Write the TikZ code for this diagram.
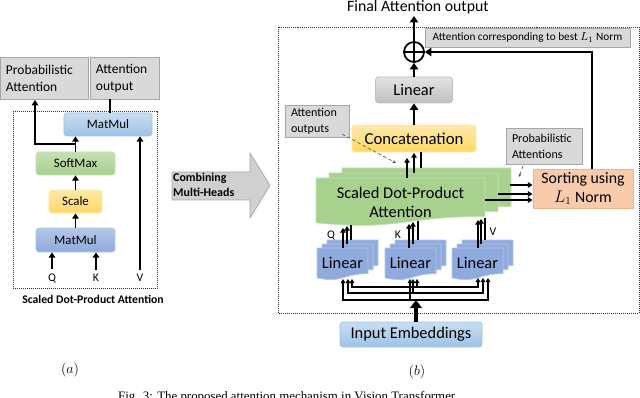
\documentclass[tikz,border=0pt]{standalone}
\usepackage{fontspec}
\setmainfont{Carlito}
\newfontfamily\capfont{Liberation Serif}
\usetikzlibrary{arrows.meta}
\definecolor{lblgray}{HTML}{D9D9D9}
\definecolor{lbledge}{HTML}{A6A6A6}
\definecolor{bluelt}{HTML}{C9DDF2}
\definecolor{bluemd}{HTML}{9DC3E6}
\definecolor{bluedk}{HTML}{8FAADC}
\definecolor{bluedklt}{HTML}{B4C7E7}
\definecolor{grn}{HTML}{A9D18E}
\definecolor{grnlt}{HTML}{C5E0B4}
\definecolor{yel}{HTML}{FFD966}
\definecolor{yellt}{HTML}{FFE9A8}
\definecolor{gry}{HTML}{BFBFBF}
\definecolor{grylt}{HTML}{E3E3E3}
\definecolor{salmon}{HTML}{F8CBAD}
\definecolor{salmonedge}{HTML}{F4B183}
\definecolor{arrowgray}{HTML}{D0D0D0}
\newcommand{\docshp}[6]{%
  \path[fill=#5, draw=#6, line width=0.6pt] (#1,#2) -- ({#1+#3},#2) -- ({#1+#3},{#2+0.802*#4})
    .. controls ({#1+0.5*#3},{#2+0.802*#4}) and ({#1+0.5*#3},{#2+1.107*#4}) .. (#1,{#2+0.934*#4}) -- cycle;}
\begin{document}
\begin{tikzpicture}[x=0.03cm,y=-0.03cm,
  f10/.style={font=\fontsize{10}{12}\selectfont},
  lbl/.style={rectangle, fill=lblgray, draw=lbledge, line width=0.6pt, inner ysep=0pt, inner xsep=0.18cm, align=left},
  rbox/.style={rectangle, rounded corners=2.5pt, inner sep=0pt, line width=0.6pt, align=center},
  arr/.style={line width=1.6pt, -{Triangle[length=4.5pt,width=5.5pt]}},
  arrR/.style={line width=2.3pt, -{Triangle[length=5.5pt,width=7pt]}},
  arrS/.style={line width=1.6pt, -{Triangle[length=4pt,width=4.8pt]}},
  plainS/.style={line width=1.6pt},
  bus/.style={line width=1.4pt, {Triangle[length=3.5pt,width=4pt]}-{Triangle[length=3.5pt,width=4pt]}},
  busv/.style={line width=1.4pt, -{Triangle[length=3.5pt,width=4pt]}},
  thinarr/.style={line width=0.5pt, black!70, densely dashed, -{Stealth[length=3pt,width=2.5pt]}},
  dotbox/.style={draw=black!80, line width=0.7pt, densely dotted}]
\useasboundingbox (0,0) rectangle (640,398);

% ---------------- (a) ----------------
\node[lbl, text width=2.28cm, minimum height=1.26cm, font=\fontsize{11.5}{14.5}\selectfont] (pa) at (44,78) {Probabilistic\\Attention};
\node[lbl, text width=1.71cm, minimum height=1.26cm, font=\fontsize{11.5}{14.5}\selectfont] (ao) at (124.5,78) {Attention\\output};
\draw[dotbox] (13,111) rectangle (157,288);
\node[rbox, top color=bluelt, bottom color=bluemd, draw=bluemd, minimum width=2.64cm, minimum height=0.69cm, font=\fontsize{11}{13}\selectfont] (mm2) at (108,124.5) {MatMul};
\node[rbox, top color=grnlt, bottom color=grn, draw=grnlt, minimum width=2.37cm, minimum height=0.69cm, font=\fontsize{11}{13}\selectfont] (sm) at (75.5,163.5) {SoftMax};
\node[rbox, top color=yellt, bottom color=yel, draw=yellt, minimum width=1.59cm, minimum height=0.69cm, font=\fontsize{11}{13}\selectfont] (sc) at (75.5,201.5) {Scale};
\node[rbox, top color=bluedklt, bottom color=bluedk, draw=bluedklt, minimum width=2.37cm, minimum height=0.72cm, font=\fontsize{11}{13}\selectfont] (mm1) at (75.5,240) {MatMul};
\node[f10] (q) at (52,278) {Q};
\node[f10] (k) at (96,278) {K};
\node[f10] (v) at (140,278) {V};
\draw[arr] (q.north) -- (q.north |- mm1.south);
\draw[arr] (k.north) -- (k.north |- mm1.south);
\draw[arr] (v.north) -- (v.north |- mm2.south);
\draw[arr] (mm1.north) -- (sc.south);
\draw[arr] (sc.north) -- (sm.south);
\draw[arr] (sm.north) -- (sm.north |- mm2.south);
\coordinate (br) at (75.5,144);
\coordinate (paIn) at (35,100);
\draw[arr] (br) -| (paIn);
\coordinate (aoIn) at (110,99);
\draw[line width=1.6pt] (aoIn |- mm2.north) -- (aoIn);
\node[font=\bfseries\fontsize{10}{12}\selectfont] (capA) at (93,299) {Scaled Dot-Product Attention};
\node[font=\fontsize{12}{14}\selectfont] (la) at (70,370) {$(a)$};

% ---------------- big arrow ----------------
\path[fill=arrowgray, draw=lbledge, line width=0.6pt] (172,172) -- (250,172) -- (250,153) -- (270,185.5) -- (250,218) -- (250,200) -- (172,200) -- cycle;
\node[anchor=west, align=left, inner sep=0pt, font=\bfseries\fontsize{10.2}{12.5}\selectfont] (comb) at (173,185) {Combining\\Multi-Heads};

% ---------------- (b) ----------------
\draw[dotbox] (278,27) rectangle (639,313);
\node[font=\fontsize{13.5}{16}\selectfont, anchor=base, inner sep=1pt] (fin) at (418,12) {Final Attention output};
\node[circle, draw, line width=1.5pt, minimum size=0.6cm, inner sep=0pt] (op) at (414,52) {};
\draw[line width=1.5pt] (op.north) -- (op.south) (op.west) -- (op.east);
\draw[arrR] (op.north) -- (op.north |- fin.south);
\node[lbl, minimum width=6.15cm, minimum height=0.57cm, font=\fontsize{9.6}{11}\selectfont] (best) at (527.5,37.5) {Attention corresponding to best $L_1$ Norm};
\node[rbox, top color=grylt, bottom color=gry, draw=gry, minimum width=2.31cm, minimum height=0.78cm, font=\fontsize{14}{16}\selectfont] (lin) at (414,90) {Linear};
\node[rbox, top color=yellt, bottom color=yel, draw=yellt, minimum width=3.72cm, minimum height=0.81cm, font=\fontsize{14.3}{16}\selectfont] (cat) at (414,138.5) {Concatenation};
\draw[arrR] (cat.north) -- (lin.south);
\draw[arrR] (lin.north) -- (op.south);
\node[lbl, text width=1.56cm, minimum height=0.96cm, font=\fontsize{10.3}{13.5}\selectfont] (aout) at (317,121) {Attention\\outputs};
\node[lbl, text width=1.92cm, minimum height=1.08cm, font=\fontsize{10.3}{13.5}\selectfont] (pats) at (544,146) {Probabilistic\\Attentions};
\node[rectangle, fill=salmon, draw=salmonedge, line width=0.8pt, minimum width=3cm, minimum height=1.17cm, inner sep=0pt, align=center, font=\fontsize{13.5}{16}\selectfont] (sort) at (583,188.5) {Sorting using\\$L_1$ Norm};
\coordinate (sortOut) at (592,169);
\draw[arrR] (sortOut) |- (op.east);
\coordinate (c1a) at (342,134);
\coordinate (c1) at (396,163);
\draw[thinarr] (c1a) -- (c1);
\coordinate (c2a) at (523,166);
\coordinate (c2) at (519,177);
\draw[thinarr] (c2a) -- (c2);

% green stack
\docshp{342}{168}{169}{48}{grn}{grnlt}
\docshp{329}{173}{169}{48}{grn}{grnlt}
\docshp{316}{178}{169}{48}{grn}{grnlt}
\node[align=center, font=\fontsize{14}{16.2}\selectfont] (sdp) at (400.5,202.5) {Scaled Dot-Product\\Attention};
% arrows to concatenation
\coordinate (g1) at (407,178); \coordinate (g2) at (414,173); \coordinate (g3) at (421,168);
\draw[arrS] (g1) -- (407,158);
\draw[arrS] (g2) -- (414,153);
\draw[plainS] (g3) -- (g3 |- cat.south);
% arrows to sorting
\coordinate (s1) at (510,185); \coordinate (s2) at (498,194); \coordinate (s3) at (485,200);
\draw[arrS] (s1) -- (s1 -| sort.west);
\draw[arrS] (s2) -- (s2 -| sort.west);
\draw[arrS] (s3) -- (s3 -| sort.west);

% linear stacks
\docshp{327}{240}{51}{32}{bluedk}{bluedklt}
\docshp{322}{244}{51}{32}{bluedk}{bluedklt}
\docshp{317}{248}{51}{32}{bluedk}{bluedklt}
\docshp{395}{240}{51}{32}{bluedk}{bluedklt}
\docshp{390}{244}{51}{32}{bluedk}{bluedklt}
\docshp{385}{248}{51}{32}{bluedk}{bluedklt}
\docshp{462}{240}{51}{32}{bluedk}{bluedklt}
\docshp{457}{244}{51}{32}{bluedk}{bluedklt}
\docshp{452}{248}{51}{32}{bluedk}{bluedklt}
\node[font=\fontsize{14}{16}\selectfont] (lq) at (342.5,263) {Linear};
\node[font=\fontsize{14}{16}\selectfont] (lk) at (410.5,263) {Linear};
\node[font=\fontsize{14}{16}\selectfont] (lv) at (477.5,263) {Linear};
\node[f10] (qr) at (331,235) {Q};
\node[f10] (kr) at (398,235) {K};
\node[f10] (vr) at (493,232) {V};
% linear -> attention
\draw[arrS] (343,248) -- (343,228);
\draw[arrS] (347,244) -- (347,226);
\draw[plainS] (351,240) -- (351,225);
\draw[arrS] (409,248) -- (409,224);
\draw[arrS] (413,244) -- (413,222);
\draw[plainS] (418,240) -- (418,221);
\draw[arrS] (478,248) -- (478,220);
\draw[arrS] (481,244) -- (481,219);
\draw[plainS] (485,240) -- (485,218);

% bus
\draw[bus] (343,279) -- (343,300) -- (488,300) -- (488,278);
\draw[bus] (348,279) -- (348,293) -- (483,293) -- (483,278);
\draw[bus] (352,279) -- (352,287) -- (478,287) -- (478,278);
\draw[busv] (410,300) -- (410,279);
\draw[busv] (413,293) -- (413,279);
\draw[busv] (417,287) -- (417,279);
\node[rbox, top color=bluelt, bottom color=bluemd, draw=bluemd, minimum width=4.26cm, minimum height=0.75cm, font=\fontsize{14}{16}\selectfont] (emb) at (411,334.5) {Input Embeddings};
\coordinate (busTop) at (416,300);
\draw[line width=3pt, -{Triangle[length=7pt,width=10pt]}] (busTop |- emb.north) -- (busTop);
\node[font=\fontsize{12}{14}\selectfont] (lb) at (417,372) {$(b)$};
\node[anchor=base west, inner sep=0pt, font=\capfont\fontsize{11}{13}\selectfont] (cap) at (118,400) {Fig. 3: The proposed attention mechanism in Vision Transformer.};
\end{tikzpicture}
\end{document}
